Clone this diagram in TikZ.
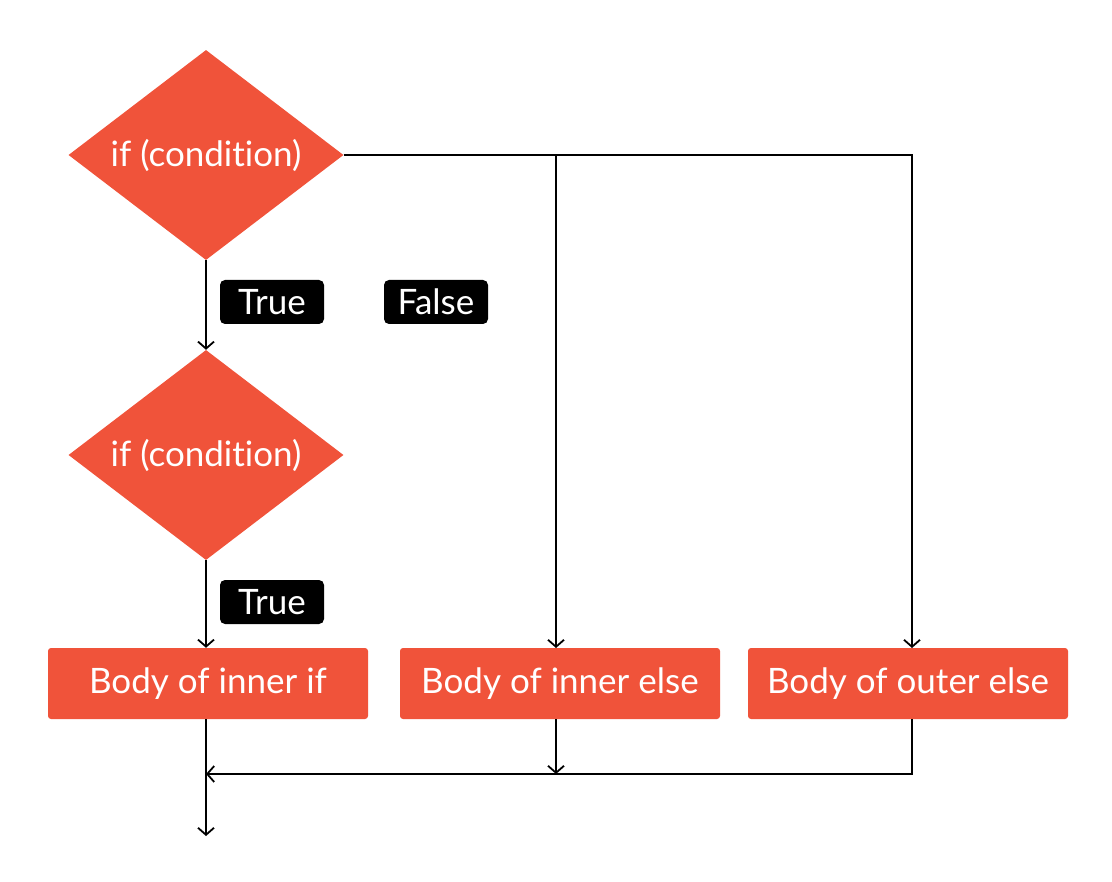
\documentclass[tikz,border=0pt]{standalone}
\usepackage{fontspec}
\setmainfont{Lato}[Ligatures=NoCommon]
\usetikzlibrary{shapes.geometric,arrows.meta}
\definecolor{boxred}{RGB}{240,83,58}
\tikzset{
  dec/.style={diamond,fill=boxred,text=white,minimum width=275pt,minimum height=210pt,inner sep=-20pt,font=\fontsize{35}{42}\selectfont},
  bodybox/.style={rectangle,rounded corners=3pt,fill=boxred,text=white,minimum width=320pt,minimum height=71pt,inner sep=0pt,font=\fontsize{35}{42}\selectfont},
  lbl/.style={rectangle,rounded corners=5pt,fill=black,text=white,minimum width=104pt,minimum height=44pt,inner sep=0pt,font=\fontsize{35}{42}\selectfont},
  conn/.style={line width=1.8pt,-{Straight Barb[length=7pt,width=16pt,line width=1.8pt]}}
}
\begin{document}
\begin{tikzpicture}[x=1pt,y=-1pt]
\useasboundingbox (0,0) rectangle (1112,882);
\node[dec] (d1) at (206,155) {if (condition)};
\node[dec] (d2) at (206,455) {if (condition)};
\node[bodybox] (b1) at (208,683.5) {Body of inner if};
\node[bodybox] (b2) at (560,683.5) {Body of inner else};
\node[bodybox] (b3) at (908,683.5) {Body of outer else};
\node[lbl] (t1) at (272,302) {True};
\node[lbl] (f1) at (436,302) {False};
\node[lbl] (t2) at (272,602) {True};
\coordinate (br) at (556,155);
\coordinate (j2) at (556,774);
\coordinate (j1) at (206,774);
\coordinate (out) at (206,836);
\draw[conn] (d1.south) -- (d1.south |- d2.north);
\draw[conn] (d2.south) -- (d2.south |- b1.north);
\draw[conn] (d1.east) -| (912,648);
\draw[conn] (br) -- (556,648);
\draw[conn] (556,719) -- (j2);
\draw[conn] (912,719) |- (j1);
\draw[conn] (206,719) -- (out);
\end{tikzpicture}
\end{document}
